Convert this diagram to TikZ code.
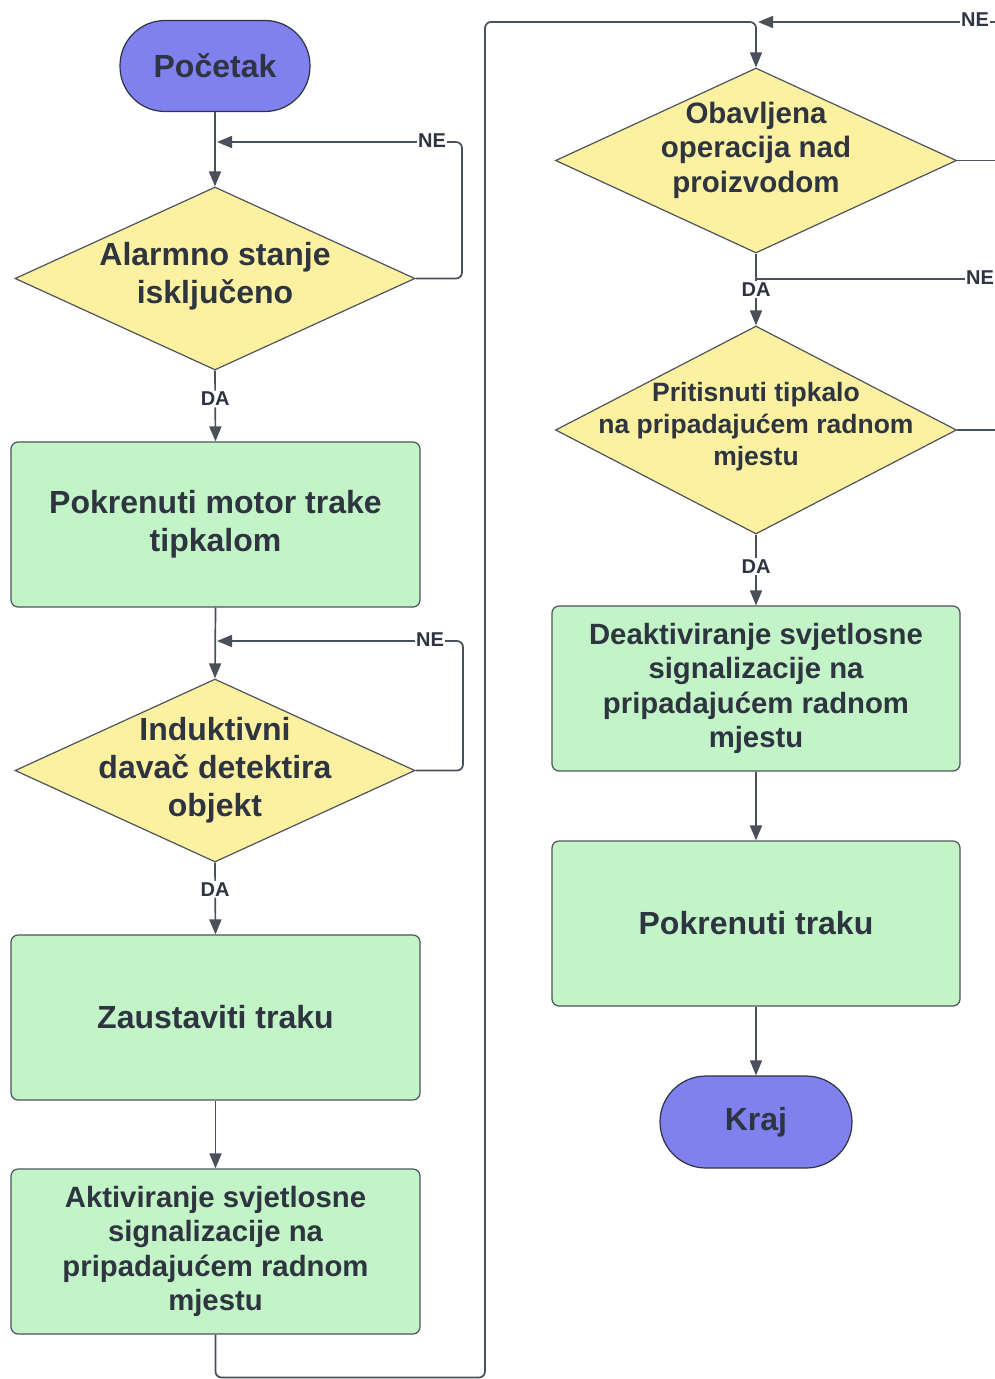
\documentclass[tikz,border=0pt]{standalone}
\usepackage{fontspec}
\setmainfont{Liberation Sans}
\usetikzlibrary{shapes.geometric,arrows.meta}
\definecolor{lilac}{HTML}{8080EE}
\definecolor{mint}{HTML}{C2F4C7}
\definecolor{lemon}{HTML}{FBF1A0}
\definecolor{ink}{HTML}{2E3440}
\definecolor{wire}{HTML}{4A5059}
\begin{document}
\begin{tikzpicture}[x=1pt,y=-1pt,
  every node/.style={text=ink},
  term/.style={draw=ink, fill=lilac, rounded corners=45pt, minimum width=190pt, minimum height=91pt, line width=1.2pt, font=\fontsize{32}{34}\bfseries\selectfont},
  proc/.style={draw=ink!85, fill=mint, rounded corners=7pt, minimum width=409pt, minimum height=165pt, line width=1.2pt, align=center, font=\fontsize{32}{38}\bfseries\selectfont},
  smallproc/.style={proc, font=\fontsize{29.3}{34.4}\bfseries\selectfont},
  dec/.style={diamond, draw=ink!85, fill=lemon, minimum width=400pt, minimum height=183pt, inner sep=0pt, line width=1.2pt},
  dtext/.style={align=center, font=\fontsize{32}{38}\bfseries\selectfont},
  lab/.style={font=\fontsize{20}{22}\bfseries\selectfont, fill=white, inner sep=1.5pt},
  flow/.style={draw=wire, line width=1.7pt, rounded corners=6pt},
  arr/.style={flow, -{Triangle[length=15pt,width=12pt]}},
]
\useasboundingbox (0,0) rectangle (995,1379);

% left column
\node[term] (start) at (215,66) {Početak};
\node[dec] (d1) at (215,278.5) {};
\node[dtext] (d1t) at (215,276) {Alarmno stanje\\isključeno};
\node[proc] (p1) at (215.5,524.5) {Pokrenuti motor trake\\tipkalom};
\node[dec] (d2) at (215,770.5) {};
\node[dtext] (d2t) at (215,770.5) {Induktivni\\davač detektira\\objekt};
\node[proc] (p2) at (215.5,1017.5) {Zaustaviti traku};
\node[smallproc] (p3) at (215.5,1251.5) {Aktiviranje svjetlosne\\signalizacije na\\pripadajućem radnom\\mjestu};

% right column
\node[dec, minimum height=185pt, minimum width=401pt] (d3) at (756,160.5) {};
\node[dtext, font=\fontsize{29.5}{34.5}\bfseries\selectfont] (d3t) at (756,150) {Obavljena\\operacija nad\\proizvodom};
\node[dec, minimum height=208pt, minimum width=401pt] (d4) at (756,430) {};
\node[dtext, font=\fontsize{26.5}{32}\bfseries\selectfont] (d4t) at (756,427) {Pritisnuti tipkalo\\na pripadajućem radnom\\mjestu};
\node[smallproc, minimum width=408pt] (p4) at (756,688.5) {Deaktiviranje svjetlosne\\signalizacije na\\pripadajućem radnom\\mjestu};
\node[proc, minimum width=408pt] (p5) at (756,923.5) {Pokrenuti traku};
\node[term, minimum width=192pt, minimum height=92pt, rounded corners=46pt] (end) at (756,1122) {Kraj};

% helper coordinates
\coordinate (j1) at (217,142);
\coordinate (j2) at (217,641);
\coordinate (j3) at (758,22);
\coordinate (j4) at (756,279);
\coordinate (e1) at (995,22);
\coordinate (e2) at (995,160.5);
\coordinate (e3) at (995,279);
\coordinate (e4) at (995,430);

% left connectors
\draw[arr] (start) -- (d1);
\draw[arr] (d1.east) -- (462,278.5) -- (462,142) -- (j1);
\node[lab] (ne1) at (432,141) {NE};
\draw[arr] (d1.south) -- node[lab, pos=0.4] (da1) {DA} (p1.north);
\draw[arr] (p1.south) -- (d2.north);
\draw[arr] (d2.east) -- (463,770.5) -- (463,641) -- (j2);
\node[lab] (ne2) at (430,640) {NE};
\draw[arr] (d2.south) -- node[lab, pos=0.37] (da2) {DA} (p2.north);
\draw[arr] (p2.south) -- (p3.north);
\draw[arr] (p3.south) -- (215.5,1377.5) -- (485,1377.5) -- (485,22) -- (756,22) -- (d3.north);

% right connectors
\draw[arr] (e1) -- (j3);
\node[lab] (ne3) at (975,20) {NE};
\draw[flow] (d3.east) -- (e2);
\draw[arr] (d3.south) -- node[lab, pos=0.5] (da3) {DA} (d4.north);
\draw[flow] (e3) -- (j4);
\node[lab] (ne4) at (980,278) {NE};
\draw[flow] (d4.east) -- (e4);
\draw[arr] (d4.south) -- node[lab, pos=0.45] (da4) {DA} (p4.north);
\draw[arr] (p4.south) -- (p5.north);
\draw[arr] (p5.south) -- (end.north);
\end{tikzpicture}
\end{document}
